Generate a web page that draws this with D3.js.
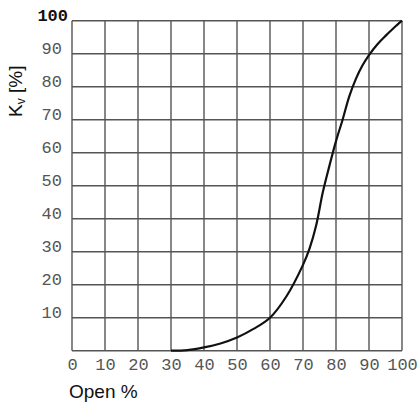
<!DOCTYPE html>
<html>
<head>
<meta charset="utf-8">
<script src="https://cdn.jsdelivr.net/npm/d3@7"></script>
<style>
  body { margin: 0; background: #fff; }
  svg { display: block; }
</style>
</head>
<body>
<div id="chart"></div>
<script>
// Size and plot area
const width = 419;
const height = 403;
const margin = { top: 20.7, right: 17, bottom: 52.3, left: 72 };

// Valve characteristic
const openPct = [30, 35, 40, 45, 50, 55, 60, 65, 70, 72, 74, 76, 78, 80, 82, 84, 86, 88, 90, 92.5, 95, 97.5, 100];
const kvPct   = [0, 0.2, 1, 2.2, 4, 6.6, 10, 16.5, 26, 31, 38, 48, 56, 63.5, 70, 77, 82.3, 86.4, 89.6, 92.8, 95.4, 97.8, 100];

// Tick labels
const xTicks = [0, 10, 20, 30, 40, 50, 60, 70, 80, 90, 100];
const yTicks = [10, 20, 30, 40, 50, 60, 70, 80, 90];
const gridTicks = [0, 10, 20, 30, 40, 50, 60, 70, 80, 90, 100];

const data = openPct.map((o, i) => ({ open: o, kv: kvPct[i] }));

const x = d3.scaleLinear().domain([0, 100]).range([margin.left, width - margin.right]);
const y = d3.scaleLinear().domain([0, 100]).range([height - margin.bottom, margin.top]);

const svg = d3.select("#chart")
  .append("svg")
  .attr("width", width)
  .attr("height", height);

// Grid
const grid = svg.append("g")
  .attr("stroke", "#555")
  .attr("stroke-width", 1.4);

grid.selectAll(".vline")
  .data(gridTicks)
  .join("line")
  .attr("x1", d => x(d)).attr("x2", d => x(d))
  .attr("y1", y(0)).attr("y2", y(100));

grid.selectAll(".hline")
  .data(gridTicks)
  .join("line")
  .attr("x1", x(0)).attr("x2", x(100))
  .attr("y1", d => y(d)).attr("y2", d => y(d));

// Axes (labels only)
const monoFont = "'Liberation Mono', 'DejaVu Sans Mono', monospace";

const xAxis = svg.append("g")
  .attr("transform", `translate(0, ${y(0)})`)
  .call(d3.axisBottom(x).tickValues(xTicks).tickSize(0).tickPadding(7));
xAxis.select(".domain").remove();
xAxis.selectAll("text")
  .attr("font-family", monoFont)
  .attr("font-size", 17)
  .attr("fill", "#555");

const yAxis = svg.append("g")
  .attr("transform", `translate(${x(0)}, 0)`)
  .call(d3.axisLeft(y).tickValues(yTicks).tickSize(0).tickPadding(10));
yAxis.select(".domain").remove();
yAxis.selectAll("text")
  .attr("dy", "0")
  .attr("font-family", monoFont)
  .attr("font-size", 17)
  .attr("fill", "#555");

// Top label is bold
svg.append("text")
  .attr("x", x(0) - 4)
  .attr("y", y(100))
  .attr("text-anchor", "end")
  .attr("font-family", monoFont)
  .attr("font-size", 17)
  .attr("font-weight", "bold")
  .attr("fill", "#111")
  .text("100");

// Curve
const line = d3.line()
  .x(d => x(d.open))
  .y(d => y(d.kv))
  .curve(d3.curveCatmullRom.alpha(0.5));

svg.append("path")
  .datum(data)
  .attr("fill", "none")
  .attr("stroke", "#111")
  .attr("stroke-width", 2.2)
  .attr("d", line);

// Axis titles
svg.append("text")
  .attr("x", 69)
  .attr("y", 398)
  .attr("font-family", "'Liberation Sans', Arial, sans-serif")
  .attr("font-size", 19)
  .attr("fill", "#111")
  .text("Open %");

const yTitle = svg.append("text")
  .attr("transform", "translate(22, 117) rotate(-90)")
  .attr("font-family", "'Liberation Sans', Arial, sans-serif")
  .attr("font-size", 19)
  .attr("fill", "#111");
yTitle.append("tspan").text("K");
yTitle.append("tspan").attr("font-size", 12).attr("dy", 3).text("v");
yTitle.append("tspan").attr("dy", -3).text(" [%]");
</script>
</body>
</html>
